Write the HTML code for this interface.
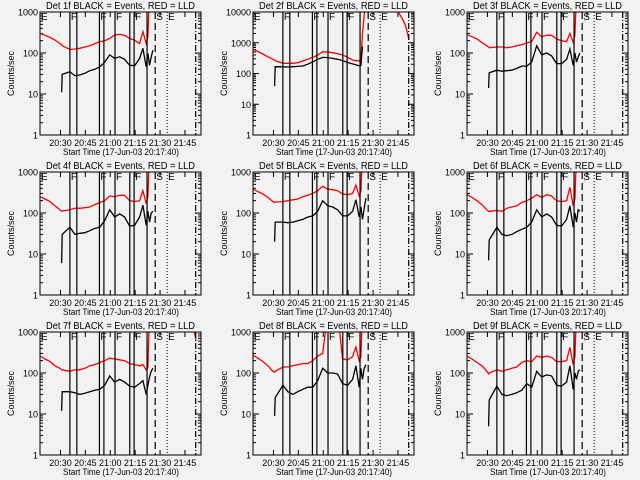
<!DOCTYPE html>
<html><head><meta charset="utf-8"><style>
html,body{margin:0;padding:0;background:#f2f2f2;}
svg{display:block;font-family:"Liberation Sans",sans-serif;}
</style></head><body>
<svg id="chart" width="640" height="480" viewBox="0 0 640 480" xmlns="http://www.w3.org/2000/svg"></svg>
<script>
// Sample times (minutes since 20:17:40)
const times = [0,3,6,9,12,13,13.4,18,21,24,27,30,33,36,39,42,45,48,51,54,57,60,62,64,65,66,67,68];
const detNames = ["1f","2f","3f","4f","5f","6f","7f","8f","9f"];
const yMaxes = [1000,10000,1000,1000,1000,1000,1000,1000,1000];
const red1 = [300,270,240,207,170,160,150,122,125,130,140,150,170,188,200,227,275,285,270,227,205,170,330,170,250,3000,3000,3000];
const blk1 = [null,null,null,null,null,11,30,35,28,29,32,37,40,46,60,90,74,81,70,50,49,74,130,46,98,50,80,118];
const red2 = [615,520,430,350,290,270,260,215,215,215,225,255,290,335,400,510,500,475,440,400,340,275,260,255,300,2000,8000,20000];
const blk2 = [null,null,null,null,null,39,167,165,163,167,170,175,200,240,290,335,330,310,290,262,230,205,190,180,185,750,null,null];
const red3 = [280,250,220,180,150,140,135,140,140,135,140,150,160,175,190,320,250,270,270,220,200,190,300,180,270,3000,3000,3000];
const blk3 = [null,null,null,null,null,14,33,38,36,37,38,42,48,48,60,150,90,100,85,55,55,70,125,50,100,60,80,100];
const red4 = [250,220,190,150,120,110,112,120,130,130,135,140,160,180,200,260,250,270,270,200,190,200,350,170,250,3000,3000,3000];
const blk4 = [null,null,null,null,null,6,30,45,30,32,33,37,42,45,65,120,80,95,80,48,50,80,155,50,110,60,100,110];
const red5 = [380,330,290,240,190,180,185,190,200,210,220,250,270,300,350,450,380,370,350,290,280,300,480,260,350,3000,3000,3000];
const blk5 = [null,null,null,null,null,20,60,60,58,60,65,70,80,85,110,200,150,140,120,85,85,110,210,80,140,70,130,230];
const red6 = [280,240,200,160,120,110,110,115,110,130,140,150,180,200,230,280,240,280,260,200,190,200,420,150,220,3000,3000,3000];
const blk6 = [null,null,null,null,null,7,22,45,30,28,30,35,40,45,60,120,80,95,80,50,48,70,150,45,100,60,120,110];
const red7 = [260,220,190,150,130,120,120,110,120,120,130,150,160,180,200,230,220,210,200,170,160,150,160,120,140,3000,3000,3000];
const blk7 = [null,null,null,null,null,12,35,35,33,30,32,35,38,40,50,85,60,70,60,48,45,55,65,30,50,80,110,130];
const red8 = [270,230,190,150,110,105,110,140,140,150,160,170,170,200,260,300,3000,3000,3000,220,210,250,430,200,250,3000,3000,3000];
const blk8 = [null,null,null,null,null,9,25,50,35,30,35,40,45,45,65,130,100,100,95,55,50,70,150,45,130,70,130,160];
const red9 = [260,220,180,150,110,95,100,120,110,120,130,140,180,200,190,260,240,260,240,190,190,200,420,160,250,3000,3000,3000];
const blk9 = [null,null,null,null,null,5,22,48,30,28,30,33,38,55,45,110,80,90,85,50,48,60,150,40,100,70,110,120];
const reds = [red1,red2,red3,red4,red5,red6,red7,red8,red9];
const blks = [blk1,blk2,blk3,blk4,blk5,blk6,blk7,blk8,blk9];
// late red tail (panel 2 and 7)
const lateTimes = [86,88,90,92,94];
const lateRed2 = [12000,9000,6000,3500,1250];
const lateRed7 = [null,null,null,1500,650];
// event markers (minutes)
const solidEvents = [18,22.2,35.8,38.5,45.2,54.1,56.7,64.5];
const dashedEvent = 69.4, dottedEvent = 76.6, dashDotEvent = 93.8;
const fLabelTimes = [18,35.8,45.2,56.7];
const xTickLabels = ["20:30","20:45","21:00","21:15","21:30","21:45"];
const xTickTimes = [12.33,27.33,42.33,57.33,72.33,87.33];
const T_MAX = 97;

const NS = "http://www.w3.org/2000/svg";
const svg = document.getElementById('chart');
function mk(tag, attrs, parent){const e=document.createElementNS(NS,tag);for(const k in attrs)e.setAttribute(k,attrs[k]);parent.appendChild(e);return e;}

for (let p=0;p<9;p++){
  const col=p%3,row=Math.floor(p/3);
  const px=[0,213,427][col]+40, py=row*160+12, pw=161, ph=123;
  const yMax=yMaxes[p], dec=Math.log10(yMax);
  const g=mk('g',{},svg);
  
  
  const xs=t=>px+t/T_MAX*pw;
  const ys=v=>py+ph-Math.log10(v)/dec*ph;
  const cid='c'+p;
  const cp=mk('clipPath',{id:cid},g);
  mk('rect',{x:px,y:py,width:pw,height:ph},cp);
  const title=mk('text',{x:px+6,y:py-3,'font-size':10,fill:'#000',textLength:149,lengthAdjust:'spacingAndGlyphs'},g);
  title.textContent='Det '+detNames[p]+' BLACK = Events, RED = LLD';
  
  
  for(let d=0;d<=dec;d++){
    const y=ys(Math.pow(10,d));
    mk('line',{x1:px,x2:px+6,y1:y,y2:y,stroke:'#000','stroke-width':1},g);
    mk('line',{x1:px+pw-6,x2:px+pw,y1:y,y2:y,stroke:'#000','stroke-width':1},g);
    const lb=mk('text',{x:px-2,y:y+3.5,'font-size':9,'text-anchor':'end',fill:'#000'},g);
    lb.textContent=String(Math.pow(10,d));
    
    
    if(d<dec) for(let m=2;m<10;m++){
      const ym=ys(m*Math.pow(10,d));
      mk('line',{x1:px,x2:px+3,y1:ym,y2:ym,stroke:'#000','stroke-width':1},g);
      mk('line',{x1:px+pw-3,x2:px+pw,y1:ym,y2:ym,stroke:'#000','stroke-width':1},g);
    }
  }
  const yt=mk('text',{x:0,y:0,'font-size':9,'text-anchor':'middle',fill:'#000',transform:`translate(${px-26},${py+ph/2}) rotate(-90)`},g);
  yt.textContent='Counts/sec';
  
  
  for(let i=0;i<xTickTimes.length;i++){
    const x=xs(xTickTimes[i]);
    mk('line',{x1:x,x2:x,y1:py+ph,y2:py+ph-5,stroke:'#000'},g);
    mk('line',{x1:x,x2:x,y1:py,y2:py+5,stroke:'#000'},g);
    const lb=mk('text',{x:x,y:py+ph+11,'font-size':9,'text-anchor':'middle',fill:'#000'},g);
    lb.textContent=xTickLabels[i];
    
    
  }
  const xt=mk('text',{x:px+23,y:py+ph+20,'font-size':9,fill:'#000',textLength:116,lengthAdjust:'spacingAndGlyphs'},g);
  xt.textContent='Start Time (17-Jun-03 20:17:40)';
  
  
  const cg=mk('g',{'clip-path':`url(#${cid})`},g);
  function series(tt,vals,color,name){
    let d='',pen=false;
    for(let i=0;i<tt.length;i++){
      if(vals[i]==null){pen=false;continue;}
      d+=(pen?'L':'M')+xs(tt[i]).toFixed(1)+','+ys(vals[i]).toFixed(1);pen=true;
    }
    const e=mk('path',{d:d,fill:'none',stroke:color,'stroke-width':1.3},cg);
    
    
  }
  series(times,reds[p],'#ff0000','red-lld-series');
  series(times,blks[p],'#000000','black-events-series');
  if(p===1) series(lateTimes,lateRed2,'#ff0000','red-lld-late');
  if(p===6) series(lateTimes,lateRed7,'#ff0000','red-lld-late');
  solidEvents.forEach(t=>{
    const l=mk('line',{x1:xs(t),x2:xs(t),y1:py,y2:py+ph,stroke:'#000','stroke-width':1.2},g);
    
    
  });
  const dl=mk('line',{x1:xs(dashedEvent),x2:xs(dashedEvent),y1:py,y2:py+ph,stroke:'#000','stroke-width':1.2,'stroke-dasharray':'7,4'},g);
  
  
  const dt=mk('line',{x1:xs(dottedEvent),x2:xs(dottedEvent),y1:py,y2:py+ph,stroke:'#000','stroke-width':1,'stroke-dasharray':'1,2'},g);
  
  
  const dd=mk('line',{x1:xs(dashDotEvent),x2:xs(dashDotEvent),y1:py,y2:py+ph,stroke:'#000','stroke-width':1.2,'stroke-dasharray':'6,2,1,2'},g);
  
  
  function lab(t,s){
    const e=mk('text',{x:xs(t)+1,y:py+8,'font-size':10,fill:'#000'},g);
    e.textContent=s;
    
    
  }
  lab(0,'E'); fLabelTimes.forEach(t=>lab(t,'F')); lab(dashedEvent,'S'); lab(dottedEvent,'E');
  const fr=mk('rect',{x:px,y:py,width:pw,height:ph,fill:'none',stroke:'#000','stroke-width':1},g);
  
  
}
</script>
</body></html>
